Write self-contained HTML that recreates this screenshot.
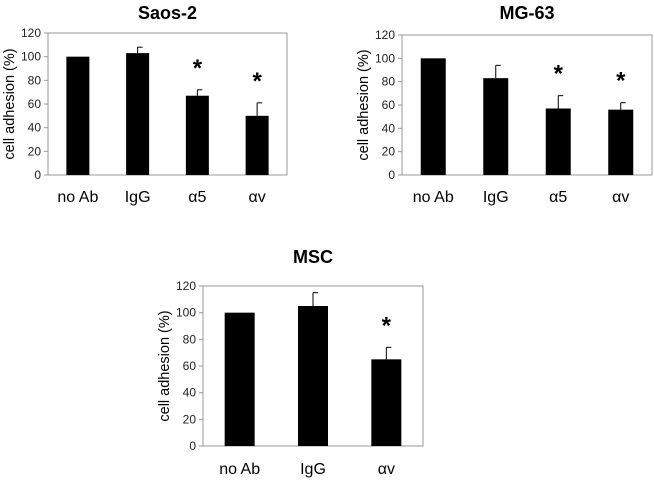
<!DOCTYPE html>
<html><head><meta charset="utf-8"><style>body{margin:0;background:#fff}svg{display:block}</style></head>
<body>
<svg id="c" width="654" height="481" font-family="Liberation Sans, Arial, sans-serif"></svg>
<script>
const saosCats=["no Ab","IgG","\u03b15","\u03b1v"];
const saosVals=[100,103,67,50];
const saosErr=[0,5,5,11];
const saosStar=[false,false,true,true];
const mgCats=["no Ab","IgG","\u03b15","\u03b1v"];
const mgVals=[100,83,57,56];
const mgErr=[0,11,11,6];
const mgStar=[false,false,true,true];
const mscCats=["no Ab","IgG","\u03b1v"];
const mscVals=[100,105,65];
const mscErr=[0,10,9];
const mscStar=[false,false,true];
const yTicks=[0,20,40,60,80,100,120];
const svg=document.getElementById('c');
const NS='http://www.w3.org/2000/svg';
function mk(t,a,p){const e=document.createElementNS(NS,t);for(const k in a)e.setAttribute(k,a[k]);(p||svg).appendChild(e);return e;}
function chart(name,title,cats,vals,errs,stars,x0,x1,yTop,yBot,titleY,labelY,bw){
  const g=mk('g',{});
  
  
  const y=v=>yBot-(v/120)*(yBot-yTop);
  const step=(x1-x0)/cats.length;
  const xc=i=>x0+step*(i+0.5);
  const t=mk('text',{x:(x0+x1)/2,y:titleY,'text-anchor':'middle','font-size':18,'font-weight':'bold'},g);t.textContent=title;
  
  const fr=mk('rect',{x:x0,y:yTop,width:x1-x0,height:yBot-yTop,fill:'none',stroke:'#999','stroke-width':1},g);
  
  yTicks.forEach(v=>{
    mk('line',{x1:x0-4,x2:x0,y1:y(v),y2:y(v),stroke:'#999'},g);
    const l=mk('text',{x:x0-7,y:y(v)+4,'text-anchor':'end','font-size':12,fill:'#222'},g);l.textContent=v;
    
  });
  const yl=mk('text',{transform:`translate(${x0-34},${(yTop+yBot)/2}) rotate(-90)`,'text-anchor':'middle','font-size':14.5},g);yl.textContent='cell adhesion (%)';
  
  cats.forEach((c,i)=>{
    const b=mk('rect',{x:xc(i)-bw/2,y:y(vals[i]),width:bw,height:yBot-y(vals[i]),fill:'#000'},g);
    
    if(errs[i]>0){
      mk('line',{x1:xc(i),x2:xc(i),y1:y(vals[i]),y2:y(vals[i]+errs[i]),stroke:'#000'},g);
      mk('line',{x1:xc(i),x2:xc(i)+5,y1:y(vals[i]+errs[i]),y2:y(vals[i]+errs[i]),stroke:'#000'},g);
    }
    if(stars[i]){
      const s=mk('text',{x:xc(i),y:y(vals[i]+errs[i])-14,'text-anchor':'middle','font-size':24,'font-weight':'bold'},g);s.textContent='*';
      
    }
    const l=mk('text',{x:xc(i),y:labelY,'text-anchor':'middle','font-size':16},g);l.textContent=c;
    
  });
}
chart('saos2-chart','Saos-2',saosCats,saosVals,saosErr,saosStar,48,287,33,175,19,202,23);
chart('mg63-chart','MG-63',mgCats,mgVals,mgErr,mgStar,402,652,35,175,19,202,25);
chart('msc-chart','MSC',mscCats,mscVals,mscErr,mscStar,203,423,286,446,263,474,30);
</script>
</body></html>
